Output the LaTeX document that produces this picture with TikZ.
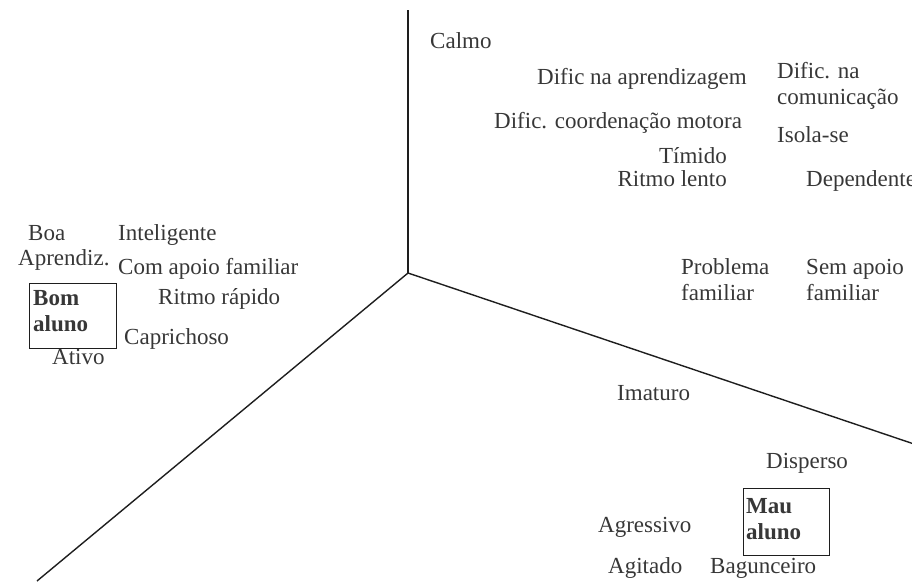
\documentclass[tikz,border=0pt]{standalone}
\usepackage{fontspec}
\setmainfont{Liberation Serif}
\definecolor{ink}{RGB}{55,55,55}
\definecolor{axis}{RGB}{30,30,30}
\begin{document}
\begin{tikzpicture}[x=1pt,y=-1pt,
  lbl/.style={inner sep=0pt, anchor=base west, text=ink, align=left,
    font=\fontsize{23}{26}\selectfont},
  lblr/.style={lbl, anchor=base east, align=right},
  boldlbl/.style={lbl, font=\fontsize{23}{25.5}\selectfont\bfseries},
  box/.style={draw=axis, line width=1.1pt, inner sep=0pt, anchor=north west},
  axisline/.style={draw=axis, line width=1.4pt}]
\useasboundingbox (0,0) rectangle (912,582);
% axes
\coordinate (o) at (408,273);
\coordinate (top) at (408,10);
\coordinate (br) at (914,444);
\coordinate (bl) at (37,581);
\draw[axisline] (top) -- (o);
\draw[axisline] (o) -- (br);
\draw[axisline] (o) -- (bl);
% upper right
\node[lbl] (calmo) at (430,48) {Calmo};
\node[lbl] (difap) at (537,84) {Dific na aprendizagem};
\node[lbl] (difcom) at (777,104) {Dific. na\\comunicação};
\node[lbl] (difcoord) at (494,128) {Dific. coordenação motora};
\node[lbl] (isola) at (777,142) {Isola-se};
\node[lblr] (timido) at (727,163) {Tímido};
\node[lblr] (ritmol) at (727,186) {Ritmo lento};
\node[lbl] (dep) at (806,186) {Dependente};
% left
\node[lbl] (boa) at (28,240) {Boa};
\node[lbl] (intel) at (118,240) {Inteligente};
\node[lbl] (aprend) at (18,265) {Aprendiz.};
\node[lbl] (comapoio) at (118,274) {Com apoio familiar};
\node[box, minimum width=87pt, minimum height=65pt] (bombox) at (29,283) {};
\node[boldlbl] (bom) at (33,331) {Bom\\aluno};
\node[lbl] (ritmor) at (158,304) {Ritmo rápido};
\node[lbl] (capr) at (124,344) {Caprichoso};
\node[lbl] (ativo) at (52,364) {Ativo};
% right middle
\node[lbl] (probl) at (681,300) {Problema\\familiar};
\node[lbl] (semap) at (806,300) {Sem apoio\\familiar};
\node[lbl] (imat) at (617,400) {Imaturo};
% lower right
\node[lbl] (disp) at (766,468) {Disperso};
\node[box, minimum width=86pt, minimum height=67pt] (maubox) at (743,488) {};
\node[boldlbl] (mau) at (746,539) {Mau\\aluno};
\node[lbl] (agress) at (598,532) {Agressivo};
\node[lbl] (agit) at (608,573) {Agitado};
\node[lbl] (bagun) at (710,573) {Bagunceiro};
\end{tikzpicture}
\end{document}
